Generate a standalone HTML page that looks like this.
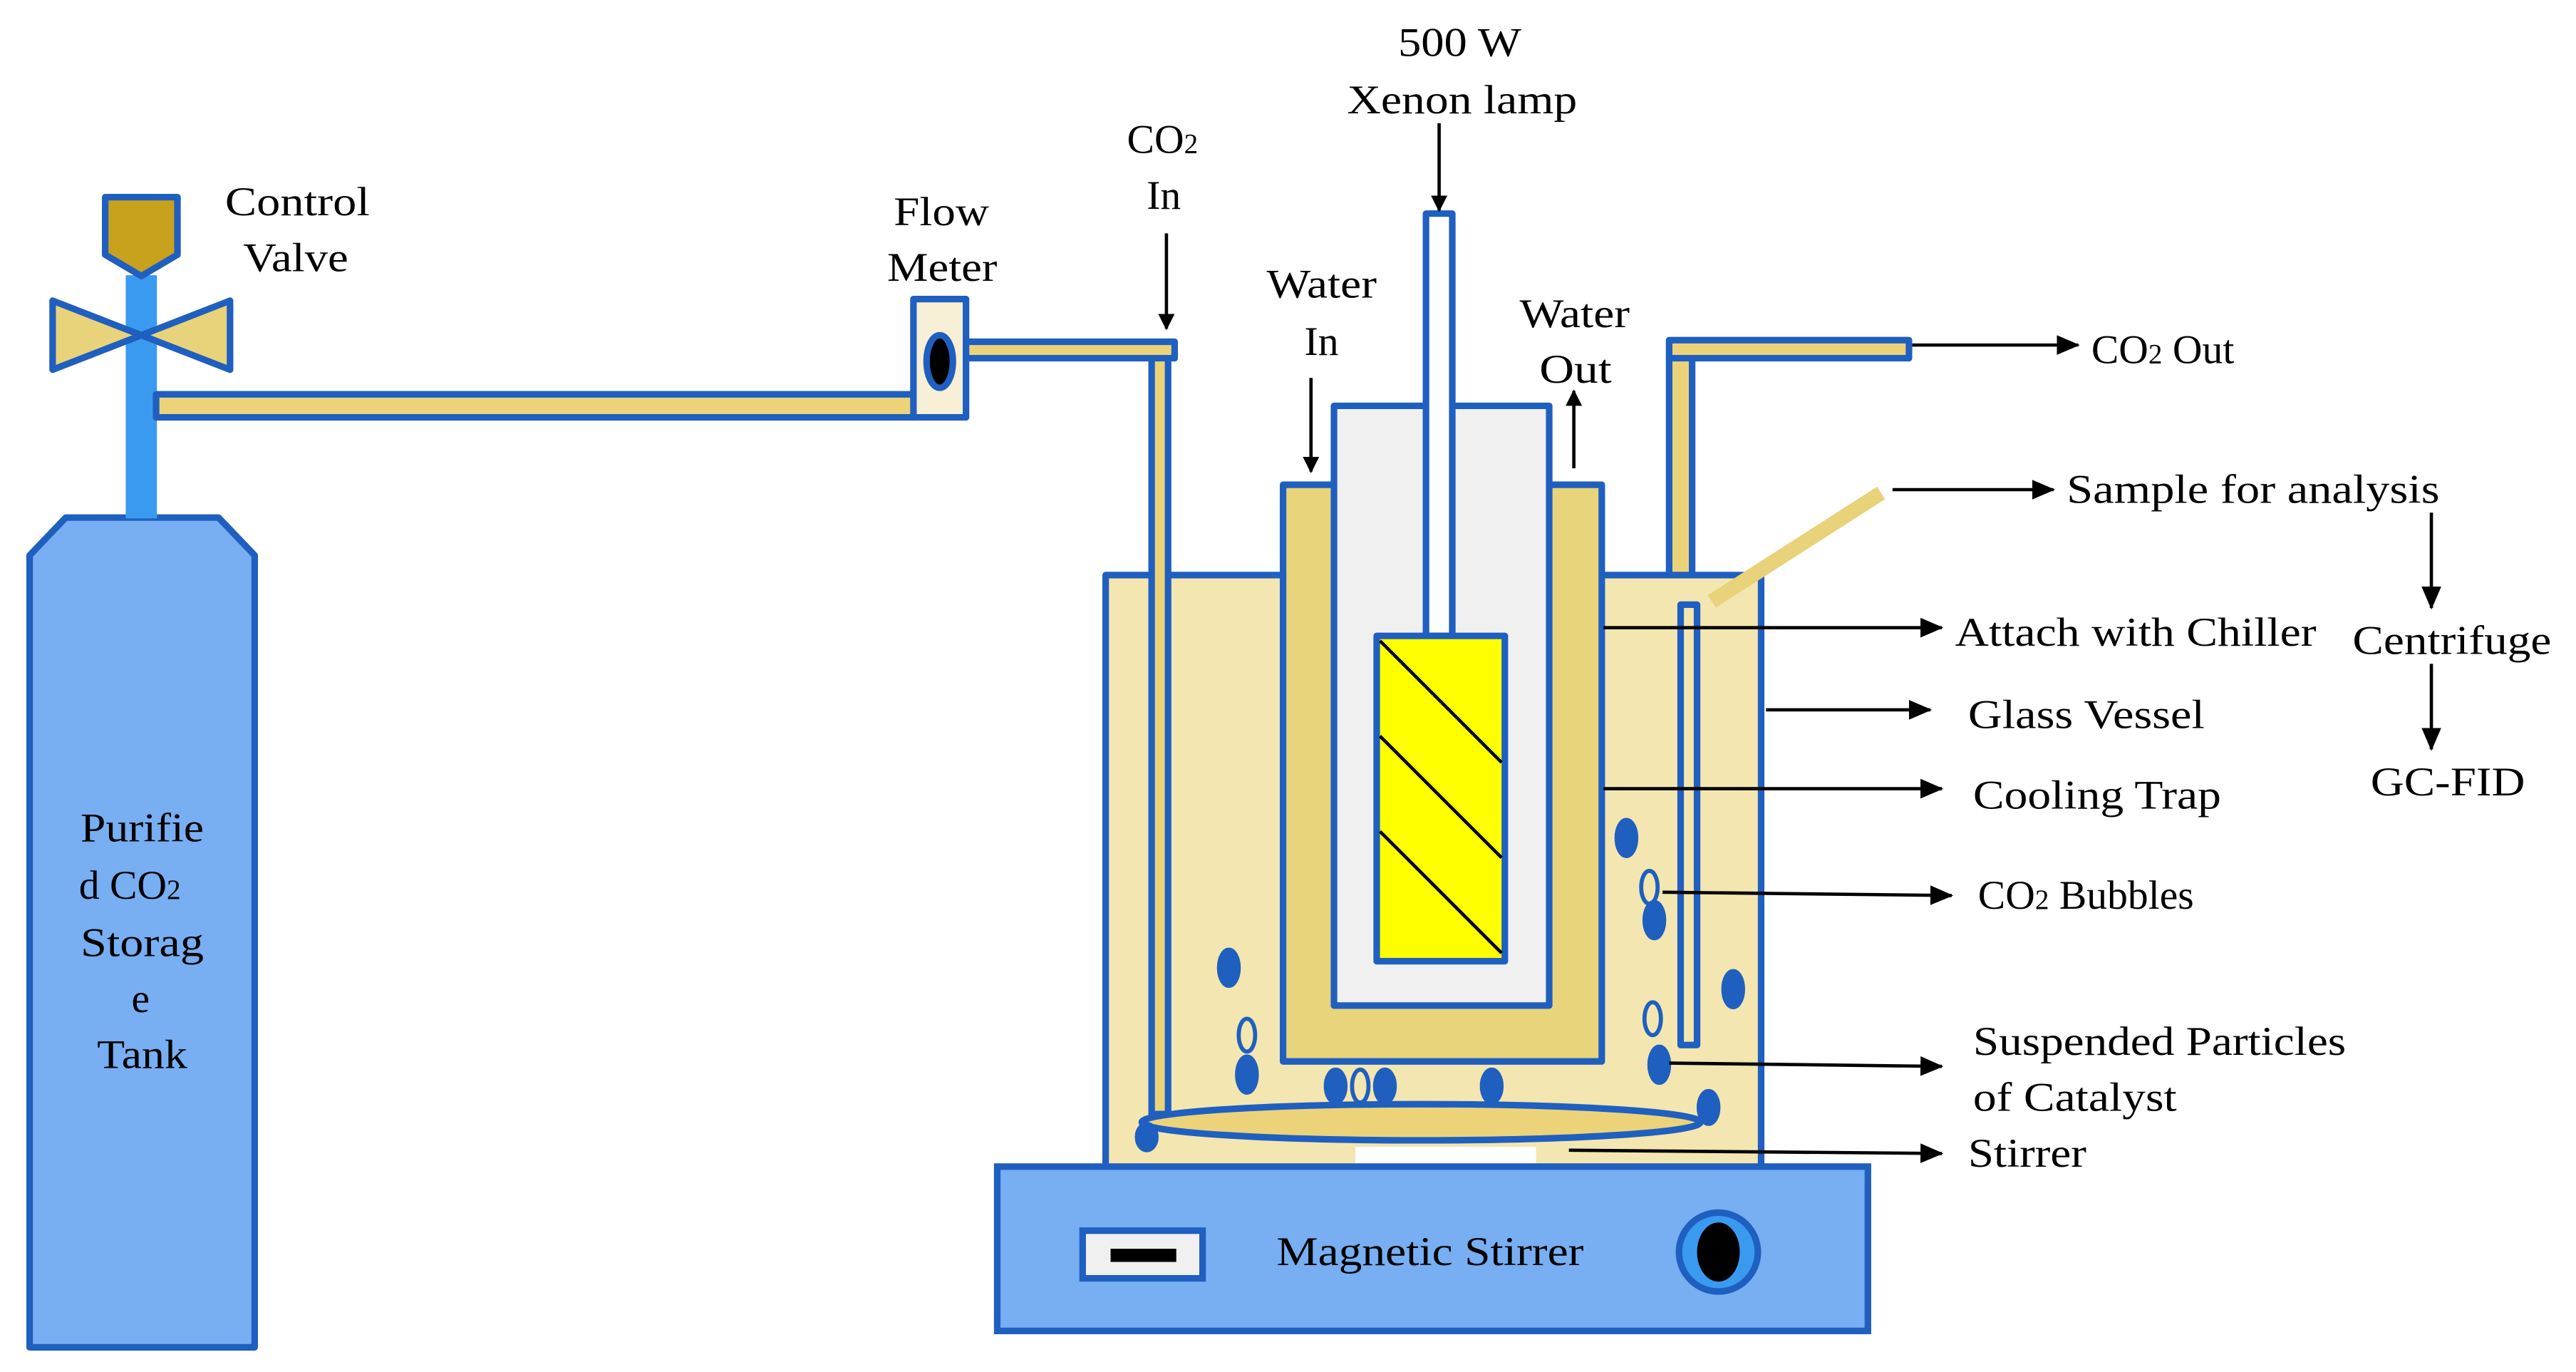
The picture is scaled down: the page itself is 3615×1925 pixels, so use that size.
<!DOCTYPE html>
<html><head><meta charset="utf-8"><style>html,body{margin:0;padding:0;background:#fff}svg{display:block}</style></head><body>
<svg width="3615" height="1925" viewBox="0 0 1568 835" xmlns="http://www.w3.org/2000/svg" font-family="Liberation Serif, serif" font-size="25">
<defs><marker id="a" markerWidth="10" markerHeight="10" refX="9" refY="5" orient="auto" markerUnits="userSpaceOnUse"><path d="M0,0 L10,5 L0,10 z" fill="#000"/></marker>
<marker id="b" markerWidth="14" markerHeight="12" refX="13" refY="6" orient="auto" markerUnits="userSpaceOnUse"><path d="M0,0 L14,6 L0,12 z" fill="#000"/></marker></defs>
<g stroke="#1f5fbf" stroke-width="4" stroke-linejoin="round">
<polygon points="18,338 40,315 133,315 155,338 155,820 18,820" fill="#78aef2"/>
<rect x="77" y="168" width="18" height="147" fill="#3a9af0" stroke="#3a9af0" stroke-width="1"/>
<polygon points="64,120 108,120 108,155 86,168 64,155" fill="#c8a21c"/>
<polygon points="32,183 32,225 86,204" fill="#e8d27a"/>
<polygon points="140,183 140,225 86,204" fill="#e8d27a"/>
<rect x="95" y="240" width="462" height="14" fill="#ecd37a"/>
<rect x="556" y="182" width="32" height="72" fill="#f7f0d6"/>
<ellipse cx="572" cy="220" rx="8" ry="16" fill="#000"/>
<rect x="588" y="208" width="127" height="10" fill="#ecd37a"/>
<rect x="673" y="350" width="399" height="362" fill="#f3e6b0"/>
<rect x="701" y="218" width="10" height="460" fill="#ecd37a"/>
<rect x="1016" y="207" width="146" height="11" fill="#ecd37a"/>
<rect x="1016" y="218" width="14" height="132" fill="#ecd37a"/>
<rect x="781" y="295" width="194" height="351" fill="#e8d47a"/>
<rect x="812" y="247" width="131" height="365" fill="#f0f0f0"/>
<rect x="868" y="130" width="16" height="257" fill="#fff"/>
<rect x="838" y="387" width="78" height="198" fill="#ffff00"/>
<rect x="1023" y="368" width="10" height="268" fill="#f3e6b0"/>
<ellipse cx="865" cy="683" rx="170" ry="11" fill="#ecd37a"/>
</g>
<line x1="1042" y1="366" x2="1145" y2="300" stroke="#e8d27a" stroke-width="9"/>
<g stroke="#000" stroke-width="2">
<line x1="840" y1="390" x2="914" y2="464"/><line x1="840" y1="448" x2="914" y2="522"/><line x1="840" y1="506" x2="914" y2="580"/>
</g>
<g fill="#1f5fbf" stroke="#1f5fbf" stroke-width="2.5">
<ellipse cx="748" cy="589" rx="6" ry="11"/><ellipse cx="759" cy="654" rx="6" ry="11"/><ellipse cx="813" cy="661" rx="6" ry="10"/>
<ellipse cx="843" cy="661" rx="6" ry="10"/><ellipse cx="908" cy="661" rx="6" ry="10"/><ellipse cx="990" cy="510" rx="6" ry="11"/>
<ellipse cx="1007" cy="560" rx="6" ry="11"/><ellipse cx="1055" cy="602" rx="6" ry="11"/><ellipse cx="1010" cy="648" rx="6" ry="11"/>
<ellipse cx="1040" cy="674" rx="6" ry="10"/><ellipse cx="698" cy="692" rx="6" ry="8"/>
</g>
<g fill="none" stroke="#1f5fbf" stroke-width="2.5">
<ellipse cx="759" cy="630" rx="5" ry="10"/><ellipse cx="828" cy="661" rx="5" ry="10"/><ellipse cx="1004" cy="540" rx="5" ry="10"/><ellipse cx="1006" cy="620" rx="5" ry="10"/>
</g>
<rect x="825" y="698" width="110" height="10" fill="#fff"/>
<g stroke="#1f5fbf" stroke-width="4">
<rect x="607" y="710" width="530" height="100" fill="#78aef2"/>
<rect x="659" y="749" width="73" height="29" fill="#f0f0f0"/>
<circle cx="1046" cy="762" r="24" fill="#3a9af0"/>
</g>
<rect x="676" y="760" width="40" height="8" fill="#000"/>
<ellipse cx="1046" cy="762" rx="13" ry="18" fill="#000"/>
<g stroke="#000" stroke-width="2" fill="none">
<line x1="876" y1="75" x2="876" y2="128" marker-end="url(#a)"/>
<line x1="710" y1="142" x2="710" y2="200" marker-end="url(#a)"/>
<line x1="798" y1="230" x2="798" y2="287" marker-end="url(#a)"/>
<line x1="958" y1="285" x2="958" y2="238" marker-end="url(#a)"/>
<line x1="1164" y1="210" x2="1265" y2="210" marker-end="url(#b)"/>
<line x1="1152" y1="298" x2="1250" y2="298" marker-end="url(#b)"/>
<line x1="976" y1="382" x2="1182" y2="382" marker-end="url(#b)"/>
<line x1="1075" y1="432" x2="1175" y2="432" marker-end="url(#b)"/>
<line x1="976" y1="480" x2="1182" y2="480" marker-end="url(#b)"/>
<line x1="1012" y1="543" x2="1188" y2="545" marker-end="url(#b)"/>
<line x1="1016" y1="647" x2="1182" y2="649" marker-end="url(#b)"/>
<line x1="955" y1="700" x2="1182" y2="702" marker-end="url(#b)"/>
<line x1="1480" y1="312" x2="1480" y2="370" marker-end="url(#b)"/>
<line x1="1480" y1="404" x2="1480" y2="456" marker-end="url(#b)"/>
</g>
<g fill="#000" lengthAdjust="spacingAndGlyphs">
<text x="137" y="131" textLength="88" lengthAdjust="spacingAndGlyphs">Control</text>
<text x="148" y="165" textLength="64" lengthAdjust="spacingAndGlyphs">Valve</text>
<text x="544" y="137" textLength="58" lengthAdjust="spacingAndGlyphs">Flow</text>
<text x="540" y="171" textLength="67" lengthAdjust="spacingAndGlyphs">Meter</text>
<text x="686" y="93">CO<tspan font-size="17">2</tspan></text>
<text x="698" y="127">In</text>
<text x="851" y="34" textLength="75" lengthAdjust="spacingAndGlyphs">500 W</text>
<text x="820" y="69" textLength="140" lengthAdjust="spacingAndGlyphs">Xenon lamp</text>
<text x="771" y="181" textLength="67" lengthAdjust="spacingAndGlyphs">Water</text>
<text x="794" y="216">In</text>
<text x="925" y="199" textLength="67" lengthAdjust="spacingAndGlyphs">Water</text>
<text x="937" y="233" textLength="44" lengthAdjust="spacingAndGlyphs">Out</text>
<text x="49" y="512" textLength="75" lengthAdjust="spacingAndGlyphs">Purifie</text>
<text x="48" y="547">d CO<tspan font-size="17">2</tspan></text>
<text x="49" y="582" textLength="75" lengthAdjust="spacingAndGlyphs">Storag</text>
<text x="80" y="616">e</text>
<text x="59" y="650" textLength="55" lengthAdjust="spacingAndGlyphs">Tank</text>
<text x="1432" y="398" textLength="121" lengthAdjust="spacingAndGlyphs">Centrifuge</text>
<text x="1443" y="484" textLength="94" lengthAdjust="spacingAndGlyphs">GC-FID</text>
<text x="777" y="770" textLength="187" lengthAdjust="spacingAndGlyphs">Magnetic Stirrer</text>
<text x="1273" y="221">CO<tspan font-size="17">2</tspan> Out</text>
<text x="1258" y="306" textLength="227" lengthAdjust="spacingAndGlyphs">Sample for analysis</text>
<text x="1190" y="393" textLength="220" lengthAdjust="spacingAndGlyphs">Attach with Chiller</text>
<text x="1198" y="443" textLength="144" lengthAdjust="spacingAndGlyphs">Glass Vessel</text>
<text x="1201" y="492" textLength="151" lengthAdjust="spacingAndGlyphs">Cooling Trap</text>
<text x="1204" y="553">CO<tspan font-size="17">2</tspan> Bubbles</text>
<text x="1201" y="642" textLength="227" lengthAdjust="spacingAndGlyphs">Suspended Particles</text>
<text x="1201" y="676" textLength="124" lengthAdjust="spacingAndGlyphs">of Catalyst</text>
<text x="1198" y="710" textLength="72" lengthAdjust="spacingAndGlyphs">Stirrer</text>
</g>
</svg>
</body></html>
